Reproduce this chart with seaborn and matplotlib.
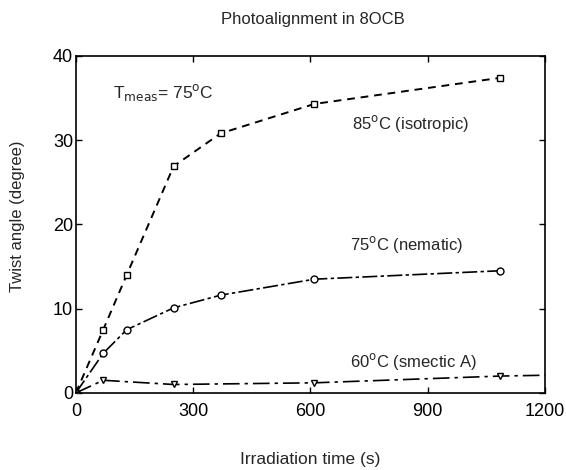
import numpy as np
import pandas as pd
import seaborn as sns
import matplotlib.pyplot as plt

# data
t_85 = [0, 70, 130, 250, 370, 610, 1085]
a_85 = [0, 7.5, 14.0, 26.9, 30.8, 34.3, 37.4]
t_75 = [0, 70, 130, 250, 370, 610, 1085]
a_75 = [0, 4.7, 7.5, 10.1, 11.6, 13.5, 14.5]
t_60 = [0, 70, 250, 610, 1085, 1200]
a_60 = [0, 1.5, 1.0, 1.2, 2.0, 2.1]
mk_60 = [False, True, True, True, True, False]

sns.set_theme(style="ticks")
plt.rcParams['font.family'] = ['Liberation Sans', 'DejaVu Sans']

fig = plt.figure(figsize=(5.66, 4.70), dpi=100)
ax = fig.add_axes([0.134, 0.164, 0.829, 0.717])

df85 = pd.DataFrame({'t': t_85, 'a': a_85})
df75 = pd.DataFrame({'t': t_75, 'a': a_75})
df60 = pd.DataFrame({'t': t_60, 'a': a_60})

sns.lineplot(data=df85, x='t', y='a', ax=ax, color='black', lw=1.4,
             linestyle=(0, (4, 3)), marker='s', markersize=5,
             markerfacecolor='white', markeredgecolor='black', markeredgewidth=1)
sns.lineplot(data=df75, x='t', y='a', ax=ax, color='black', lw=1.2,
             linestyle=(0, (9, 2, 2, 2)), marker='o', markersize=5,
             markerfacecolor='white', markeredgecolor='black', markeredgewidth=1)
sns.lineplot(data=df60, x='t', y='a', ax=ax, color='black', lw=1.2,
             linestyle=(0, (10, 3, 2, 3)))
pts = df60[mk_60]
ax.plot(pts['t'], pts['a'], linestyle='none', marker='v', markersize=5,
        markerfacecolor='white', markeredgecolor='black', markeredgewidth=1)

ax.set_xlim(0, 1200)
ax.set_ylim(0, 40)
ax.set_xticks([0, 300, 600, 900, 1200])
ax.set_yticks([0, 10, 20, 30, 40])
ax.tick_params(direction='in', top=True, right=True, labelsize=13,
               length=4, width=1, colors='black')
ax.tick_params(axis='x', pad=7)
ax.tick_params(axis='y', pad=2)
for s in ax.spines.values():
    s.set_linewidth(1.2)
    s.set_color('black')

ax.set_xlabel('Irradiation time (s)', fontsize=12.5)
ax.set_ylabel('Twist angle (degree)', fontsize=12)
ax.xaxis.set_label_coords(0.5, -0.175)
ax.yaxis.set_label_coords(-0.109, 0.525)
fig.suptitle('Photoalignment in 8OCB', fontsize=12, y=0.975, x=0.553)

ax.text(95, 35.6, r'T$_{\mathrm{meas}}$= 75$^{\mathrm{o}}$C', fontsize=12.5, va='center')
ax.text(705, 32.0, r'85$^{\mathrm{o}}$C (isotropic)', fontsize=12, va='center')
ax.text(700, 17.6, r'75$^{\mathrm{o}}$C (nematic)', fontsize=12, va='center')
ax.text(700, 3.7, r'60$^{\mathrm{o}}$C (smectic A)', fontsize=12, va='center')

plt.savefig('out.png', dpi=100)
